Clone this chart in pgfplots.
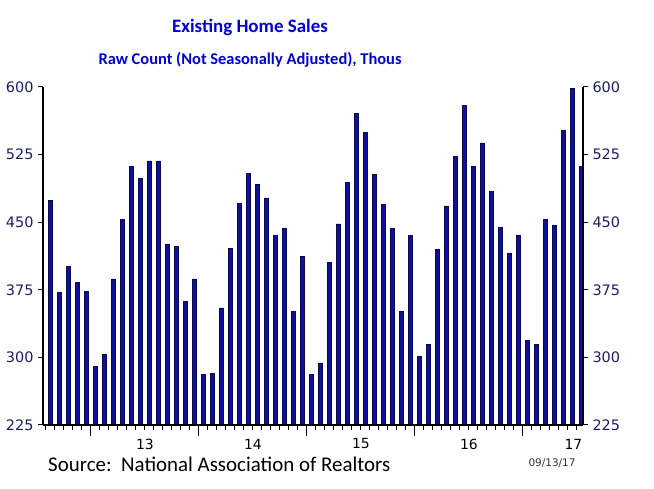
\documentclass[border=0pt]{standalone}
\usepackage{pgfplots}
\pgfplotsset{compat=1.18}
\usepackage{pgfplotstable}
\usepackage{fontspec}
\setmainfont{Carlito}
\newfontfamily\dejavu{DejaVu Sans}
\definecolor{titleblue}{RGB}{0,0,204}
\definecolor{ticknavy}{RGB}{30,30,100}
\definecolor{barfill}{RGB}{15,15,160}
\definecolor{baredge}{RGB}{10,10,70}

% x = month index (Jan 2013 = 0), bar centred at k+0.5
\pgfplotstableread{
x y
-4.5 474
-3.5 372
-2.5 401
-1.5 383
-0.5 373
0.5 290
1.5 303
2.5 387
3.5 453
4.5 512
5.5 499
6.5 518
7.5 518
8.5 426
9.5 423
10.5 362
11.5 387
12.5 281
13.5 282
14.5 355
15.5 421
16.5 471
17.5 504
18.5 492
19.5 477
20.5 435
21.5 443
22.5 351
23.5 412
24.5 281
25.5 294
26.5 405
27.5 448
28.5 494
29.5 571
30.5 550
31.5 503
32.5 470
33.5 443
34.5 351
35.5 435
36.5 301
37.5 314
38.5 420
39.5 468
40.5 523
41.5 580
42.5 512
43.5 538
44.5 484
45.5 444
46.5 416
47.5 436
48.5 319
49.5 314
50.5 453
51.5 446
52.5 552
53.5 598
54.5 512
}\salestable

\begin{document}
\begin{tikzpicture}[x=1bp,y=1bp]
\useasboundingbox (0,0) rectangle (654,489);
\begin{axis}[
  at={(43bp,64bp)}, anchor=south west,
  scale only axis, width=540bp, height=338bp,
  xmin=-5.33, xmax=54.67, ymin=225, ymax=600,
  ybar, bar width=4.2bp,
  axis x line*=bottom, axis y line*=left,
  axis line style={line width=1.6bp, black, -},
  xtick pos=bottom, ytick pos=left,
  tick align=outside,
  major tick length=11bp,
  tick style={line width=1bp, black},
  /pgf/number format/assume math mode=true,
  ytick=\empty,
  extra y ticks={225,300,375,450,525,600},
  extra y tick style={major tick length=5bp,
    yticklabel style={font=\dejavu\fontsize{14.5}{16}\selectfont, text=ticknavy, xshift=-1bp}},
  xtick={0,12,24,36,48},
  xticklabels={},
  clip mode=individual,
]
\addplot[fill=barfill, draw=baredge, line width=0.6bp] table[x=x, y=y] {\salestable};
\end{axis}
\begin{axis}[
  at={(43bp,64bp)}, anchor=south west,
  scale only axis, width=540bp, height=338bp,
  xmin=-5.33, xmax=54.67, ymin=225, ymax=600,
  hide y axis,
  axis x line*=bottom,
  axis line style={line width=1.6bp, black, -},
  xtick pos=bottom,
  xtick align=outside,
  xtick={-5,-4,-3,-2,-1,1,2,3,4,5,6,7,8,9,10,11,13,14,15,16,17,18,19,20,21,22,23,25,26,27,28,29,30,31,32,33,34,35,37,38,39,40,41,42,43,44,45,46,47,49,50,51,52,53,54},
  xticklabels={},
  major tick length=5bp,
  xtick style={line width=1bp, draw=black},
  clip mode=individual,
]
\addplot[draw=none] coordinates {(0,300)};
\node[font=\dejavu\fontsize{14}{16}\selectfont] at (axis cs:6,225) [yshift=-19bp] {13};
\node[font=\dejavu\fontsize{14}{16}\selectfont] at (axis cs:18,225) [yshift=-19bp] {14};
\node[font=\dejavu\fontsize{14}{16}\selectfont] at (axis cs:30,225) [yshift=-19bp] {15};
\node[font=\dejavu\fontsize{14}{16}\selectfont] at (axis cs:42,225) [yshift=-19bp] {16};
\node[font=\dejavu\fontsize{14}{16}\selectfont] at (axis cs:53.6,225) [yshift=-19bp] {17};
\end{axis}
\begin{axis}[
  at={(43bp,64bp)}, anchor=south west,
  scale only axis, width=540bp, height=338bp,
  xmin=-5.33, xmax=54.67, ymin=225, ymax=600,
  hide x axis,
  axis y line*=right,
  axis line style={line width=1.6bp, black, -},
  ytick pos=right, yticklabel pos=right,
  tick align=outside,
  major tick length=5bp,
  tick style={line width=1bp, black},
  /pgf/number format/assume math mode=true,
  ytick={225,300,375,450,525,600},
  yticklabel style={font=\dejavu\fontsize{14.5}{16}\selectfont, text=ticknavy, xshift=1bp},
]
\addplot[draw=none] coordinates {(0,300)};
\end{axis}
\node[font=\bfseries\fontsize{19}{23}\selectfont, text=titleblue] at (250,462) {Existing Home Sales};
\node[font=\bfseries\fontsize{16.5}{20}\selectfont, text=titleblue] at (250,429) {Raw Count (Not Seasonally Adjusted), Thous};
\node[font=\fontsize{21}{25}\selectfont, anchor=base west, inner sep=0pt] at (48,17) {Source:\ \ National Association of Realtors};
\node[font=\dejavu\fontsize{10.5}{12}\selectfont, text=black!80, anchor=center] at (552,26) {09/13/17};
\end{tikzpicture}
\end{document}
